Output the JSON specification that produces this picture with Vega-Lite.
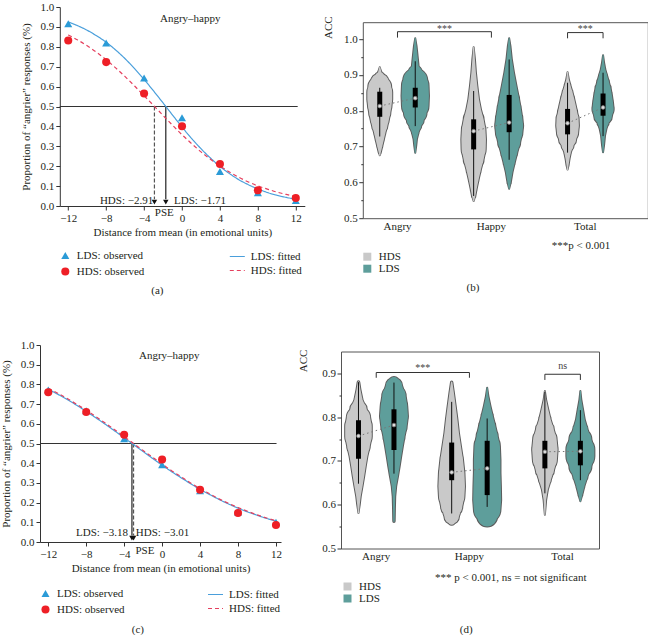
{
  "$schema": "https://vega.github.io/schema/vega-lite/v6.json",
  "background": "white",
  "padding": {"left": 0, "top": 1, "right": 0, "bottom": 0},
  "datasets": {
    "refA": [{"x": -12.89, "x2": 12.2, "p": 0.5}],
    "refC": [{"x": -12.87, "x2": 12.06, "p": 0.5}],
    "pseA": [
      {"g": "HDS", "x": -2.91, "p": 0.5, "p2": 0.034},
      {"g": "LDS", "x": -1.71, "p": 0.5, "p2": 0.034}
    ],
    "pseC": [
      {"g": "LDS", "x": -3.18, "p": 0.5, "p2": 0.034},
      {"g": "HDS", "x": -3.01, "p": 0.5, "p2": 0.034}
    ],
    "arrA": [{"x": -2.91, "p": 0.02}, {"x": -1.71, "p": 0.02}],
    "arrC": [{"x": -3.18, "p": 0.02}, {"x": -3.01, "p": 0.02}],
    "textA": [
      {"t": "Angry–happy", "x": 0.87, "p": 0.941},
      {"t": "HDS: −2.91", "x": -5.85, "p": 0.025},
      {"t": "LDS: −1.71", "x": 1.9, "p": 0.025},
      {"t": "PSE", "x": -1.87, "p": -0.037}
    ],
    "textC": [
      {"t": "Angry–happy", "x": 0.75, "p": 0.944},
      {"t": "LDS: −3.18", "x": -6.33, "p": 0.046},
      {"t": "HDS: −3.01", "x": 0.04, "p": 0.046},
      {"t": "PSE", "x": -1.81, "p": -0.048}
    ],
    "obsA": [
      {"s": "LDS: observed", "x": -12, "p": 0.916},
      {"s": "LDS: observed", "x": -8, "p": 0.819},
      {"s": "LDS: observed", "x": -4, "p": 0.643},
      {"s": "LDS: observed", "x": 0, "p": 0.443},
      {"s": "LDS: observed", "x": 4, "p": 0.173},
      {"s": "LDS: observed", "x": 8, "p": 0.067},
      {"s": "LDS: observed", "x": 12, "p": 0.027},
      {"s": "HDS: observed", "x": -12, "p": 0.832},
      {"s": "HDS: observed", "x": -8, "p": 0.723},
      {"s": "HDS: observed", "x": -4, "p": 0.565},
      {"s": "HDS: observed", "x": 0, "p": 0.401},
      {"s": "HDS: observed", "x": 4, "p": 0.211},
      {"s": "HDS: observed", "x": 8, "p": 0.079},
      {"s": "HDS: observed", "x": 12, "p": 0.04}
    ],
    "obsC": [
      {"s": "LDS: observed", "x": -12, "p": 0.772},
      {"s": "LDS: observed", "x": -8, "p": 0.666},
      {"s": "LDS: observed", "x": -4, "p": 0.524},
      {"s": "LDS: observed", "x": 0, "p": 0.392},
      {"s": "LDS: observed", "x": 4, "p": 0.26},
      {"s": "LDS: observed", "x": 8, "p": 0.152},
      {"s": "LDS: observed", "x": 12, "p": 0.1},
      {"s": "HDS: observed", "x": -12, "p": 0.76},
      {"s": "HDS: observed", "x": -8, "p": 0.66},
      {"s": "HDS: observed", "x": -4, "p": 0.544},
      {"s": "HDS: observed", "x": 0, "p": 0.419},
      {"s": "HDS: observed", "x": 4, "p": 0.265},
      {"s": "HDS: observed", "x": 8, "p": 0.147},
      {"s": "HDS: observed", "x": 12, "p": 0.086}
    ],
    "fitA": [
      {"f": "LDS: fitted", "x": -12, "p": 0.925}, {"f": "LDS: fitted", "x": -11, "p": 0.906},
      {"f": "LDS: fitted", "x": -10, "p": 0.883}, {"f": "LDS: fitted", "x": -9, "p": 0.855},
      {"f": "LDS: fitted", "x": -8, "p": 0.823}, {"f": "LDS: fitted", "x": -7, "p": 0.784},
      {"f": "LDS: fitted", "x": -6, "p": 0.74}, {"f": "LDS: fitted", "x": -5, "p": 0.69},
      {"f": "LDS: fitted", "x": -4, "p": 0.636}, {"f": "LDS: fitted", "x": -3, "p": 0.578},
      {"f": "LDS: fitted", "x": -2, "p": 0.518}, {"f": "LDS: fitted", "x": -1, "p": 0.457},
      {"f": "LDS: fitted", "x": 0, "p": 0.397}, {"f": "LDS: fitted", "x": 1, "p": 0.34},
      {"f": "LDS: fitted", "x": 2, "p": 0.288}, {"f": "LDS: fitted", "x": 3, "p": 0.241},
      {"f": "LDS: fitted", "x": 4, "p": 0.199}, {"f": "LDS: fitted", "x": 5, "p": 0.163},
      {"f": "LDS: fitted", "x": 6, "p": 0.132}, {"f": "LDS: fitted", "x": 7, "p": 0.107},
      {"f": "LDS: fitted", "x": 8, "p": 0.086}, {"f": "LDS: fitted", "x": 9, "p": 0.068},
      {"f": "LDS: fitted", "x": 10, "p": 0.054}, {"f": "LDS: fitted", "x": 11, "p": 0.043},
      {"f": "LDS: fitted", "x": 12, "p": 0.034},
      {"f": "HDS: fitted", "x": -12, "p": 0.86}, {"f": "HDS: fitted", "x": -11, "p": 0.834},
      {"f": "HDS: fitted", "x": -10, "p": 0.805}, {"f": "HDS: fitted", "x": -9, "p": 0.772},
      {"f": "HDS: fitted", "x": -8, "p": 0.735}, {"f": "HDS: fitted", "x": -7, "p": 0.694},
      {"f": "HDS: fitted", "x": -6, "p": 0.65}, {"f": "HDS: fitted", "x": -5, "p": 0.603},
      {"f": "HDS: fitted", "x": -4, "p": 0.554}, {"f": "HDS: fitted", "x": -3, "p": 0.505},
      {"f": "HDS: fitted", "x": -2, "p": 0.455}, {"f": "HDS: fitted", "x": -1, "p": 0.406},
      {"f": "HDS: fitted", "x": 0, "p": 0.358}, {"f": "HDS: fitted", "x": 1, "p": 0.314},
      {"f": "HDS: fitted", "x": 2, "p": 0.272}, {"f": "HDS: fitted", "x": 3, "p": 0.235},
      {"f": "HDS: fitted", "x": 4, "p": 0.201}, {"f": "HDS: fitted", "x": 5, "p": 0.171},
      {"f": "HDS: fitted", "x": 6, "p": 0.144}, {"f": "HDS: fitted", "x": 7, "p": 0.121},
      {"f": "HDS: fitted", "x": 8, "p": 0.101}, {"f": "HDS: fitted", "x": 9, "p": 0.085},
      {"f": "HDS: fitted", "x": 10, "p": 0.07}, {"f": "HDS: fitted", "x": 11, "p": 0.058},
      {"f": "HDS: fitted", "x": 12, "p": 0.048}
    ],
    "fitC": [
      {"f": "LDS: fitted", "x": -12, "p": 0.775}, {"f": "LDS: fitted", "x": -11, "p": 0.75},
      {"f": "LDS: fitted", "x": -10, "p": 0.723}, {"f": "LDS: fitted", "x": -9, "p": 0.694},
      {"f": "LDS: fitted", "x": -8, "p": 0.663}, {"f": "LDS: fitted", "x": -7, "p": 0.631},
      {"f": "LDS: fitted", "x": -6, "p": 0.598}, {"f": "LDS: fitted", "x": -5, "p": 0.564},
      {"f": "LDS: fitted", "x": -4, "p": 0.529}, {"f": "LDS: fitted", "x": -3, "p": 0.494},
      {"f": "LDS: fitted", "x": -2, "p": 0.459}, {"f": "LDS: fitted", "x": -1, "p": 0.424},
      {"f": "LDS: fitted", "x": 0, "p": 0.39}, {"f": "LDS: fitted", "x": 1, "p": 0.357},
      {"f": "LDS: fitted", "x": 2, "p": 0.326}, {"f": "LDS: fitted", "x": 3, "p": 0.296},
      {"f": "LDS: fitted", "x": 4, "p": 0.267}, {"f": "LDS: fitted", "x": 5, "p": 0.241},
      {"f": "LDS: fitted", "x": 6, "p": 0.216}, {"f": "LDS: fitted", "x": 7, "p": 0.193},
      {"f": "LDS: fitted", "x": 8, "p": 0.172}, {"f": "LDS: fitted", "x": 9, "p": 0.153},
      {"f": "LDS: fitted", "x": 10, "p": 0.136}, {"f": "LDS: fitted", "x": 11, "p": 0.12},
      {"f": "LDS: fitted", "x": 12, "p": 0.106},
      {"f": "HDS: fitted", "x": -12, "p": 0.78}, {"f": "HDS: fitted", "x": -11, "p": 0.755},
      {"f": "HDS: fitted", "x": -10, "p": 0.728}, {"f": "HDS: fitted", "x": -9, "p": 0.699},
      {"f": "HDS: fitted", "x": -8, "p": 0.669}, {"f": "HDS: fitted", "x": -7, "p": 0.637},
      {"f": "HDS: fitted", "x": -6, "p": 0.604}, {"f": "HDS: fitted", "x": -5, "p": 0.57},
      {"f": "HDS: fitted", "x": -4, "p": 0.535}, {"f": "HDS: fitted", "x": -3, "p": 0.5},
      {"f": "HDS: fitted", "x": -2, "p": 0.464}, {"f": "HDS: fitted", "x": -1, "p": 0.43},
      {"f": "HDS: fitted", "x": 0, "p": 0.396}, {"f": "HDS: fitted", "x": 1, "p": 0.362},
      {"f": "HDS: fitted", "x": 2, "p": 0.331}, {"f": "HDS: fitted", "x": 3, "p": 0.3},
      {"f": "HDS: fitted", "x": 4, "p": 0.271}, {"f": "HDS: fitted", "x": 5, "p": 0.245},
      {"f": "HDS: fitted", "x": 6, "p": 0.219}, {"f": "HDS: fitted", "x": 7, "p": 0.196},
      {"f": "HDS: fitted", "x": 8, "p": 0.175}, {"f": "HDS: fitted", "x": 9, "p": 0.156},
      {"f": "HDS: fitted", "x": 10, "p": 0.138}, {"f": "HDS: fitted", "x": 11, "p": 0.122},
      {"f": "HDS: fitted", "x": 12, "p": 0.108}
    ],
    "violinB": [
      {"cat": "Angry", "grp": "HDS", "v": 0.921, "d": 0}, {"cat": "Angry", "grp": "HDS", "v": 0.907, "d": 0.12},
      {"cat": "Angry", "grp": "HDS", "v": 0.893, "d": 0.36}, {"cat": "Angry", "grp": "HDS", "v": 0.879, "d": 0.64},
      {"cat": "Angry", "grp": "HDS", "v": 0.865, "d": 0.82}, {"cat": "Angry", "grp": "HDS", "v": 0.851, "d": 0.89},
      {"cat": "Angry", "grp": "HDS", "v": 0.832, "d": 0.89}, {"cat": "Angry", "grp": "HDS", "v": 0.814, "d": 0.84},
      {"cat": "Angry", "grp": "HDS", "v": 0.795, "d": 0.76}, {"cat": "Angry", "grp": "HDS", "v": 0.776, "d": 0.66},
      {"cat": "Angry", "grp": "HDS", "v": 0.758, "d": 0.55}, {"cat": "Angry", "grp": "HDS", "v": 0.739, "d": 0.41},
      {"cat": "Angry", "grp": "HDS", "v": 0.72, "d": 0.3}, {"cat": "Angry", "grp": "HDS", "v": 0.702, "d": 0.19},
      {"cat": "Angry", "grp": "HDS", "v": 0.683, "d": 0.07}, {"cat": "Angry", "grp": "HDS", "v": 0.676, "d": 0},
      {"cat": "Angry", "grp": "LDS", "v": 1.002, "d": 0}, {"cat": "Angry", "grp": "LDS", "v": 0.981, "d": 0.09},
      {"cat": "Angry", "grp": "LDS", "v": 0.963, "d": 0.14}, {"cat": "Angry", "grp": "LDS", "v": 0.944, "d": 0.19},
      {"cat": "Angry", "grp": "LDS", "v": 0.925, "d": 0.24}, {"cat": "Angry", "grp": "LDS", "v": 0.907, "d": 0.48},
      {"cat": "Angry", "grp": "LDS", "v": 0.898, "d": 0.59}, {"cat": "Angry", "grp": "LDS", "v": 0.884, "d": 0.86},
      {"cat": "Angry", "grp": "LDS", "v": 0.87, "d": 0.95}, {"cat": "Angry", "grp": "LDS", "v": 0.842, "d": 0.98},
      {"cat": "Angry", "grp": "LDS", "v": 0.814, "d": 0.95}, {"cat": "Angry", "grp": "LDS", "v": 0.795, "d": 0.81},
      {"cat": "Angry", "grp": "LDS", "v": 0.776, "d": 0.62}, {"cat": "Angry", "grp": "LDS", "v": 0.758, "d": 0.43},
      {"cat": "Angry", "grp": "LDS", "v": 0.739, "d": 0.24}, {"cat": "Angry", "grp": "LDS", "v": 0.72, "d": 0.12},
      {"cat": "Angry", "grp": "LDS", "v": 0.702, "d": 0.07}, {"cat": "Angry", "grp": "LDS", "v": 0.683, "d": 0},
      {"cat": "Happy", "grp": "HDS", "v": 0.977, "d": 0}, {"cat": "Happy", "grp": "HDS", "v": 0.944, "d": 0.09},
      {"cat": "Happy", "grp": "HDS", "v": 0.907, "d": 0.16}, {"cat": "Happy", "grp": "HDS", "v": 0.87, "d": 0.26},
      {"cat": "Happy", "grp": "HDS", "v": 0.832, "d": 0.38}, {"cat": "Happy", "grp": "HDS", "v": 0.804, "d": 0.52},
      {"cat": "Happy", "grp": "HDS", "v": 0.776, "d": 0.71}, {"cat": "Happy", "grp": "HDS", "v": 0.748, "d": 0.84},
      {"cat": "Happy", "grp": "HDS", "v": 0.72, "d": 0.88}, {"cat": "Happy", "grp": "HDS", "v": 0.692, "d": 0.86},
      {"cat": "Happy", "grp": "HDS", "v": 0.664, "d": 0.71}, {"cat": "Happy", "grp": "HDS", "v": 0.636, "d": 0.52},
      {"cat": "Happy", "grp": "HDS", "v": 0.609, "d": 0.36}, {"cat": "Happy", "grp": "HDS", "v": 0.581, "d": 0.21},
      {"cat": "Happy", "grp": "HDS", "v": 0.562, "d": 0.12}, {"cat": "Happy", "grp": "HDS", "v": 0.548, "d": 0},
      {"cat": "Happy", "grp": "LDS", "v": 1.002, "d": 0}, {"cat": "Happy", "grp": "LDS", "v": 0.981, "d": 0.09},
      {"cat": "Happy", "grp": "LDS", "v": 0.944, "d": 0.19}, {"cat": "Happy", "grp": "LDS", "v": 0.907, "d": 0.34},
      {"cat": "Happy", "grp": "LDS", "v": 0.87, "d": 0.52}, {"cat": "Happy", "grp": "LDS", "v": 0.833, "d": 0.71},
      {"cat": "Happy", "grp": "LDS", "v": 0.805, "d": 0.84}, {"cat": "Happy", "grp": "LDS", "v": 0.777, "d": 0.95},
      {"cat": "Happy", "grp": "LDS", "v": 0.758, "d": 1.0}, {"cat": "Happy", "grp": "LDS", "v": 0.74, "d": 0.95},
      {"cat": "Happy", "grp": "LDS", "v": 0.712, "d": 0.79}, {"cat": "Happy", "grp": "LDS", "v": 0.684, "d": 0.59},
      {"cat": "Happy", "grp": "LDS", "v": 0.656, "d": 0.41}, {"cat": "Happy", "grp": "LDS", "v": 0.628, "d": 0.24},
      {"cat": "Happy", "grp": "LDS", "v": 0.6, "d": 0.12}, {"cat": "Happy", "grp": "LDS", "v": 0.582, "d": 0},
      {"cat": "Total", "grp": "HDS", "v": 0.907, "d": 0}, {"cat": "Total", "grp": "HDS", "v": 0.888, "d": 0.09},
      {"cat": "Total", "grp": "HDS", "v": 0.87, "d": 0.21}, {"cat": "Total", "grp": "HDS", "v": 0.851, "d": 0.36},
      {"cat": "Total", "grp": "HDS", "v": 0.833, "d": 0.48}, {"cat": "Total", "grp": "HDS", "v": 0.814, "d": 0.59},
      {"cat": "Total", "grp": "HDS", "v": 0.795, "d": 0.69}, {"cat": "Total", "grp": "HDS", "v": 0.777, "d": 0.79},
      {"cat": "Total", "grp": "HDS", "v": 0.758, "d": 0.81}, {"cat": "Total", "grp": "HDS", "v": 0.74, "d": 0.76},
      {"cat": "Total", "grp": "HDS", "v": 0.721, "d": 0.62}, {"cat": "Total", "grp": "HDS", "v": 0.703, "d": 0.43},
      {"cat": "Total", "grp": "HDS", "v": 0.684, "d": 0.24}, {"cat": "Total", "grp": "HDS", "v": 0.665, "d": 0.14},
      {"cat": "Total", "grp": "HDS", "v": 0.647, "d": 0.07}, {"cat": "Total", "grp": "HDS", "v": 0.636, "d": 0},
      {"cat": "Total", "grp": "LDS", "v": 0.955, "d": 0}, {"cat": "Total", "grp": "LDS", "v": 0.935, "d": 0.07},
      {"cat": "Total", "grp": "LDS", "v": 0.916, "d": 0.16}, {"cat": "Total", "grp": "LDS", "v": 0.898, "d": 0.29},
      {"cat": "Total", "grp": "LDS", "v": 0.879, "d": 0.43}, {"cat": "Total", "grp": "LDS", "v": 0.861, "d": 0.55},
      {"cat": "Total", "grp": "LDS", "v": 0.842, "d": 0.64}, {"cat": "Total", "grp": "LDS", "v": 0.823, "d": 0.71},
      {"cat": "Total", "grp": "LDS", "v": 0.805, "d": 0.76}, {"cat": "Total", "grp": "LDS", "v": 0.786, "d": 0.64},
      {"cat": "Total", "grp": "LDS", "v": 0.768, "d": 0.41}, {"cat": "Total", "grp": "LDS", "v": 0.749, "d": 0.24},
      {"cat": "Total", "grp": "LDS", "v": 0.73, "d": 0.14}, {"cat": "Total", "grp": "LDS", "v": 0.703, "d": 0.07},
      {"cat": "Total", "grp": "LDS", "v": 0.684, "d": 0}
    ],
    "violinD": [
      {"cat": "Angry", "grp": "HDS", "v": 0.88, "d": 0.06}, {"cat": "Angry", "grp": "HDS", "v": 0.863, "d": 0.14},
      {"cat": "Angry", "grp": "HDS", "v": 0.84, "d": 0.29}, {"cat": "Angry", "grp": "HDS", "v": 0.818, "d": 0.59},
      {"cat": "Angry", "grp": "HDS", "v": 0.798, "d": 0.84}, {"cat": "Angry", "grp": "HDS", "v": 0.779, "d": 0.95},
      {"cat": "Angry", "grp": "HDS", "v": 0.756, "d": 0.95}, {"cat": "Angry", "grp": "HDS", "v": 0.734, "d": 0.81},
      {"cat": "Angry", "grp": "HDS", "v": 0.711, "d": 0.64}, {"cat": "Angry", "grp": "HDS", "v": 0.688, "d": 0.52},
      {"cat": "Angry", "grp": "HDS", "v": 0.665, "d": 0.41}, {"cat": "Angry", "grp": "HDS", "v": 0.642, "d": 0.29},
      {"cat": "Angry", "grp": "HDS", "v": 0.619, "d": 0.16}, {"cat": "Angry", "grp": "HDS", "v": 0.6, "d": 0.09},
      {"cat": "Angry", "grp": "HDS", "v": 0.581, "d": 0},
      {"cat": "Angry", "grp": "LDS", "v": 0.88, "d": 0.36}, {"cat": "Angry", "grp": "LDS", "v": 0.871, "d": 0.59},
      {"cat": "Angry", "grp": "LDS", "v": 0.848, "d": 0.84}, {"cat": "Angry", "grp": "LDS", "v": 0.825, "d": 0.95},
      {"cat": "Angry", "grp": "LDS", "v": 0.802, "d": 1.0}, {"cat": "Angry", "grp": "LDS", "v": 0.779, "d": 0.91},
      {"cat": "Angry", "grp": "LDS", "v": 0.756, "d": 0.76}, {"cat": "Angry", "grp": "LDS", "v": 0.734, "d": 0.64},
      {"cat": "Angry", "grp": "LDS", "v": 0.711, "d": 0.52}, {"cat": "Angry", "grp": "LDS", "v": 0.688, "d": 0.41},
      {"cat": "Angry", "grp": "LDS", "v": 0.665, "d": 0.29}, {"cat": "Angry", "grp": "LDS", "v": 0.642, "d": 0.16},
      {"cat": "Angry", "grp": "LDS", "v": 0.619, "d": 0.09}, {"cat": "Angry", "grp": "LDS", "v": 0.596, "d": 0.07},
      {"cat": "Angry", "grp": "LDS", "v": 0.562, "d": 0.05},
      {"cat": "Happy", "grp": "HDS", "v": 0.88, "d": 0.05}, {"cat": "Happy", "grp": "HDS", "v": 0.856, "d": 0.16},
      {"cat": "Happy", "grp": "HDS", "v": 0.825, "d": 0.29}, {"cat": "Happy", "grp": "HDS", "v": 0.795, "d": 0.41},
      {"cat": "Happy", "grp": "HDS", "v": 0.764, "d": 0.52}, {"cat": "Happy", "grp": "HDS", "v": 0.734, "d": 0.66},
      {"cat": "Happy", "grp": "HDS", "v": 0.703, "d": 0.81}, {"cat": "Happy", "grp": "HDS", "v": 0.673, "d": 0.91},
      {"cat": "Happy", "grp": "HDS", "v": 0.642, "d": 0.95}, {"cat": "Happy", "grp": "HDS", "v": 0.619, "d": 0.91},
      {"cat": "Happy", "grp": "HDS", "v": 0.596, "d": 0.76}, {"cat": "Happy", "grp": "HDS", "v": 0.573, "d": 0.52},
      {"cat": "Happy", "grp": "HDS", "v": 0.562, "d": 0.24},
      {"cat": "Happy", "grp": "LDS", "v": 0.867, "d": 0}, {"cat": "Happy", "grp": "LDS", "v": 0.848, "d": 0.09},
      {"cat": "Happy", "grp": "LDS", "v": 0.825, "d": 0.24}, {"cat": "Happy", "grp": "LDS", "v": 0.802, "d": 0.41},
      {"cat": "Happy", "grp": "LDS", "v": 0.779, "d": 0.59}, {"cat": "Happy", "grp": "LDS", "v": 0.756, "d": 0.76},
      {"cat": "Happy", "grp": "LDS", "v": 0.734, "d": 0.91}, {"cat": "Happy", "grp": "LDS", "v": 0.703, "d": 0.95},
      {"cat": "Happy", "grp": "LDS", "v": 0.673, "d": 0.95}, {"cat": "Happy", "grp": "LDS", "v": 0.642, "d": 0.98},
      {"cat": "Happy", "grp": "LDS", "v": 0.611, "d": 1.0}, {"cat": "Happy", "grp": "LDS", "v": 0.589, "d": 0.95},
      {"cat": "Happy", "grp": "LDS", "v": 0.573, "d": 0.71}, {"cat": "Happy", "grp": "LDS", "v": 0.562, "d": 0.24},
      {"cat": "Total", "grp": "HDS", "v": 0.86, "d": 0}, {"cat": "Total", "grp": "HDS", "v": 0.84, "d": 0.09},
      {"cat": "Total", "grp": "HDS", "v": 0.818, "d": 0.24}, {"cat": "Total", "grp": "HDS", "v": 0.795, "d": 0.41},
      {"cat": "Total", "grp": "HDS", "v": 0.772, "d": 0.64}, {"cat": "Total", "grp": "HDS", "v": 0.749, "d": 0.84},
      {"cat": "Total", "grp": "HDS", "v": 0.726, "d": 0.91}, {"cat": "Total", "grp": "HDS", "v": 0.703, "d": 0.86},
      {"cat": "Total", "grp": "HDS", "v": 0.68, "d": 0.66}, {"cat": "Total", "grp": "HDS", "v": 0.657, "d": 0.43},
      {"cat": "Total", "grp": "HDS", "v": 0.634, "d": 0.21}, {"cat": "Total", "grp": "HDS", "v": 0.611, "d": 0.09},
      {"cat": "Total", "grp": "HDS", "v": 0.577, "d": 0},
      {"cat": "Total", "grp": "LDS", "v": 0.86, "d": 0}, {"cat": "Total", "grp": "LDS", "v": 0.84, "d": 0.07},
      {"cat": "Total", "grp": "LDS", "v": 0.818, "d": 0.19}, {"cat": "Total", "grp": "LDS", "v": 0.795, "d": 0.31},
      {"cat": "Total", "grp": "LDS", "v": 0.772, "d": 0.52}, {"cat": "Total", "grp": "LDS", "v": 0.749, "d": 0.79},
      {"cat": "Total", "grp": "LDS", "v": 0.726, "d": 1.0}, {"cat": "Total", "grp": "LDS", "v": 0.711, "d": 1.0},
      {"cat": "Total", "grp": "LDS", "v": 0.688, "d": 0.79}, {"cat": "Total", "grp": "LDS", "v": 0.665, "d": 0.52},
      {"cat": "Total", "grp": "LDS", "v": 0.642, "d": 0.29}, {"cat": "Total", "grp": "LDS", "v": 0.623, "d": 0.14},
      {"cat": "Total", "grp": "LDS", "v": 0.608, "d": 0}
    ],
    "statsB": [
      {"cat": "Angry", "grp": "HDS", "lo": 0.728, "q1": 0.783, "med": 0.813, "q3": 0.853, "hi": 0.864},
      {"cat": "Angry", "grp": "LDS", "lo": 0.757, "q1": 0.809, "med": 0.835, "q3": 0.864, "hi": 0.938},
      {"cat": "Happy", "grp": "HDS", "lo": 0.562, "q1": 0.692, "med": 0.743, "q3": 0.776, "hi": 0.855},
      {"cat": "Happy", "grp": "LDS", "lo": 0.663, "q1": 0.74, "med": 0.767, "q3": 0.844, "hi": 0.943},
      {"cat": "Total", "grp": "HDS", "lo": 0.683, "q1": 0.734, "med": 0.765, "q3": 0.805, "hi": 0.878},
      {"cat": "Total", "grp": "LDS", "lo": 0.729, "q1": 0.786, "med": 0.809, "q3": 0.848, "hi": 0.906}
    ],
    "statsD": [
      {"cat": "Angry", "grp": "HDS", "lo": 0.648, "q1": 0.705, "med": 0.757, "q3": 0.793, "hi": 0.88},
      {"cat": "Angry", "grp": "LDS", "lo": 0.671, "q1": 0.725, "med": 0.782, "q3": 0.818, "hi": 0.879},
      {"cat": "Happy", "grp": "HDS", "lo": 0.58, "q1": 0.656, "med": 0.674, "q3": 0.742, "hi": 0.835},
      {"cat": "Happy", "grp": "LDS", "lo": 0.595, "q1": 0.622, "med": 0.683, "q3": 0.746, "hi": 0.797},
      {"cat": "Total", "grp": "HDS", "lo": 0.626, "q1": 0.683, "med": 0.721, "q3": 0.746, "hi": 0.858},
      {"cat": "Total", "grp": "LDS", "lo": 0.656, "q1": 0.69, "med": 0.722, "q3": 0.746, "hi": 0.816}
    ],
    "bracketB": [
      {"b": "AH", "cat": "Angry", "grp": "mid", "v": 1.004, "k": 1},
      {"b": "AH", "cat": "Angry", "grp": "mid", "v": 1.0205, "k": 2},
      {"b": "AH", "cat": "Happy", "grp": "mid", "v": 1.0205, "k": 3},
      {"b": "AH", "cat": "Happy", "grp": "mid", "v": 1.004, "k": 4},
      {"b": "T", "cat": "Total", "grp": "HDS", "v": 1.002, "k": 1},
      {"b": "T", "cat": "Total", "grp": "HDS", "v": 1.018, "k": 2},
      {"b": "T", "cat": "Total", "grp": "LDS", "v": 1.018, "k": 3},
      {"b": "T", "cat": "Total", "grp": "LDS", "v": 1.002, "k": 4}
    ],
    "bracketD": [
      {"b": "AH", "cat": "Angry", "grp": "mid", "v": 0.89, "k": 1},
      {"b": "AH", "cat": "Angry", "grp": "mid", "v": 0.902, "k": 2},
      {"b": "AH", "cat": "Happy", "grp": "mid", "v": 0.902, "k": 3},
      {"b": "AH", "cat": "Happy", "grp": "mid", "v": 0.89, "k": 4},
      {"b": "T", "cat": "Total", "grp": "HDS", "v": 0.885, "k": 1},
      {"b": "T", "cat": "Total", "grp": "HDS", "v": 0.898, "k": 2},
      {"b": "T", "cat": "Total", "grp": "LDS", "v": 0.898, "k": 3},
      {"b": "T", "cat": "Total", "grp": "LDS", "v": 0.885, "k": 4}
    ],
    "sigB": [
      {"t": "***", "cat": "Angry–Happy", "grp": "mid", "v": 1.028},
      {"t": "***", "cat": "Total", "grp": "mid", "v": 1.028}
    ],
    "sigD": [
      {"t": "***", "cat": "Angry–Happy", "grp": "mid", "v": 0.912},
      {"t": "ns", "cat": "Total", "grp": "mid", "v": 0.916}
    ]
  },
  "vconcat": [
    {
      "spacing": -21.2,
      "hconcat": [
        {"width": 1, "height": 1, "data": {"values": []}, "mark": "point", "encoding": {}},
        {
          "spacing": 16,
          "hconcat": [
            {
              "width": 245,
              "height": 199,
              "title": {"text": "(a)", "orient": "bottom", "anchor": "middle", "frame": "bounds", "offset": 8, "dx": -5},
              "encoding": {
                "x": {"field": "x", "type": "quantitative", "scale": {"domain": [-12.89, 12.95], "nice": false, "zero": false},
                  "axis": {"title": "Distance from mean (in emotional units)", "values": [-12, -8, -4, 0, 4, 8, 12], "titlePadding": 3}},
                "y": {"field": "p", "type": "quantitative", "scale": {"domain": [0, 1], "nice": false, "zero": false},
                  "axis": {"title": "Proportion of “angrier” responses (%)", "values": [0, 0.1, 0.2, 0.3, 0.4, 0.5, 0.6, 0.7, 0.8, 0.9, 1], "format": ".1f", "titlePadding": 9}}
              },
              "layer": [
                {"data": {"name": "refA"}, "mark": {"type": "rule", "color": "#333333", "strokeWidth": 1}, "encoding": {"x2": {"field": "x2"}}},
                {"data": {"name": "pseA"}, "transform": [{"filter": "datum.g == 'LDS'"}], "mark": {"type": "rule", "color": "#222222", "strokeWidth": 1.2}, "encoding": {"y2": {"field": "p2"}}},
                {"data": {"name": "pseA"}, "transform": [{"filter": "datum.g == 'HDS'"}], "mark": {"type": "rule", "color": "#555555", "strokeWidth": 1.2, "strokeDash": [4, 2]}, "encoding": {"y2": {"field": "p2"}}},
                {
                  "data": {"name": "fitA"},
                  "mark": {"type": "line", "strokeWidth": 1.2, "interpolate": "monotone"},
                  "encoding": {
                    "color": {"field": "f", "type": "nominal", "scale": {"domain": ["LDS: fitted", "HDS: fitted"], "range": ["#4a9fdb", "#e5405e"]},
                      "legend": {"orient": "none", "legendX": 169, "legendY": 241, "title": null, "symbolType": "stroke", "symbolSize": 225, "symbolStrokeWidth": 1.2, "rowPadding": 0, "labelOffset": 5,
                        "encode": {"symbols": {"update": {"stroke": {"signal": "datum.value == 'LDS: fitted' ? '#4a9fdb' : '#e5405e'"}}}}}},
                    "strokeDash": {"field": "f", "type": "nominal", "scale": {"domain": ["LDS: fitted", "HDS: fitted"], "range": [[1, 0], [4, 3]]},
                      "legend": {"orient": "none", "legendX": 169, "legendY": 241, "title": null, "symbolType": "stroke", "symbolSize": 225, "symbolStrokeWidth": 1.2, "rowPadding": 0, "labelOffset": 5,
                        "encode": {"symbols": {"update": {"stroke": {"signal": "datum.value == 'LDS: fitted' ? '#4a9fdb' : '#e5405e'"}}}}}}
                  }
                },
                {
                  "data": {"name": "obsA"},
                  "mark": {"type": "point", "filled": true, "size": 65, "opacity": 1},
                  "encoding": {
                    "fill": {"field": "s", "type": "nominal", "scale": {"domain": ["LDS: observed", "HDS: observed"], "range": ["#2b9bd7", "#ee1f26"]},
                      "legend": {"orient": "none", "legendX": 0, "legendY": 243, "title": null, "symbolSize": 65, "symbolStrokeWidth": 0, "rowPadding": 4, "labelOffset": 6}},
                    "shape": {"field": "s", "type": "nominal", "scale": {"domain": ["LDS: observed", "HDS: observed"], "range": ["triangle-up", "circle"]},
                      "legend": {"orient": "none", "legendX": 0, "legendY": 243, "title": null, "symbolSize": 65, "symbolStrokeWidth": 0, "rowPadding": 4, "labelOffset": 6}}
                  }
                },
                {"data": {"name": "arrA"}, "mark": {"type": "point", "shape": "triangle-down", "filled": true, "color": "#111111", "size": 30, "opacity": 1}, "encoding": {}},
                {"data": {"name": "textA"}, "mark": {"type": "text", "fontSize": 11}, "encoding": {"text": {"field": "t"}}}
              ]
            },
            {
              "spacing": 7.2,
              "vconcat": [
                {"width": 1, "height": 1, "data": {"values": []}, "mark": "point", "encoding": {}},
                {
                  "width": 285,
                  "height": 196,
                  "view": {"stroke": "#555555", "strokeWidth": 1},
                  "title": {"text": "(b)", "orient": "bottom", "anchor": "middle", "frame": "bounds", "offset": 8, "dx": -12},
                  "encoding": {
                    "x": {"field": "cat", "type": "nominal",
                      "scale": {"domain": ["Angry", "Angry–Happy", "Happy", "Happy–Total", "Total"], "paddingInner": 0.244, "paddingOuter": 0.657, "align": 0.2747},
                      "axis": {"values": ["Angry", "Happy", "Total"], "labelAngle": 0, "ticks": false, "tickSize": 0, "domain": false, "labelPadding": 2,
                        "title": "***p < 0.001", "titleX": 247, "titleAlign": "right", "titlePadding": 8}},
                    "xOffset": {"field": "grp", "type": "nominal", "scale": {"type": "point", "padding": 0, "domain": ["HDS", "mid", "LDS"]}},
                    "y": {"field": "v", "type": "quantitative", "scale": {"domain": [0.5, 1.047], "nice": false, "zero": false},
                      "axis": {"title": "ACC", "titleAlign": "center", "titleY": 5, "titlePadding": 10.5, "domain": false, "labelPadding": 1.5,
                        "values": [0.5, 0.55, 0.6, 0.65, 0.7, 0.75, 0.8, 0.85, 0.9, 0.95, 1.0],
                        "labelExpr": "round(datum.value * 20) % 2 == 1 ? '' : format(datum.value, '.1f')",
                        "tickSize": {"condition": {"test": "round(datum.value * 20) % 2 == 1", "value": 2}, "value": 4}}}
                  },
                  "layer": [
                    {"data": {"name": "violinB"}, "mark": {"type": "trail", "color": "#5c5c5c"},
                      "encoding": {"size": {"field": "d", "type": "quantitative", "scale": {"domain": [0, 1], "range": [2, 30]}, "legend": null},
                        "detail": [{"field": "cat"}, {"field": "grp"}], "order": {"field": "v", "type": "quantitative"}}},
                    {"data": {"name": "violinB"}, "mark": {"type": "trail"},
                      "encoding": {
                        "fill": {"field": "grp", "type": "nominal", "scale": {"domain": ["HDS", "LDS"], "range": ["#c9c9c9", "#5e9e9b"]},
                          "legend": {"orient": "none", "legendX": -1, "legendY": 229, "title": null, "symbolType": "square", "symbolSize": 64, "symbolStrokeWidth": 0, "rowPadding": 0, "labelOffset": 6}},
                        "size": {"field": "d", "type": "quantitative", "scale": {"domain": [0, 1], "range": [0, 28]}, "legend": null},
                        "detail": [{"field": "cat"}, {"field": "grp"}], "order": {"field": "v", "type": "quantitative"}}},
                    {"data": {"name": "statsB"}, "mark": {"type": "rule", "color": "#111111", "strokeWidth": 1},
                      "encoding": {"y": {"field": "lo", "type": "quantitative", "title": "ACC"}, "y2": {"field": "hi"}}},
                    {"data": {"name": "statsB"}, "mark": {"type": "rule", "color": "#000000", "strokeWidth": 5, "strokeCap": "butt"},
                      "encoding": {"y": {"field": "q1", "type": "quantitative", "title": "ACC"}, "y2": {"field": "q3"}}},
                    {"data": {"name": "statsB"}, "mark": {"type": "line", "color": "#777777", "strokeWidth": 1, "strokeDash": [1.5, 3]},
                      "encoding": {"y": {"field": "med", "type": "quantitative", "title": "ACC"}, "detail": {"field": "cat"}, "order": {"field": "grp"}}},
                    {"data": {"name": "statsB"}, "mark": {"type": "point", "filled": true, "fill": "#dddddd", "stroke": "#777777", "strokeWidth": 0.8, "size": 14, "opacity": 1},
                      "encoding": {"y": {"field": "med", "type": "quantitative", "title": "ACC"}}},
                    {"data": {"name": "bracketB"}, "mark": {"type": "line", "color": "#333333", "strokeWidth": 1},
                      "encoding": {"detail": {"field": "b"}, "order": {"field": "k", "type": "quantitative"}}},
                    {"data": {"name": "sigB"}, "mark": {"type": "text", "fontSize": 10, "color": "#444444"},
                      "encoding": {"text": {"field": "t"}}}
                  ],
                  "resolve": {"scale": {"size": "independent"}}
                }
              ],
              "resolve": {"scale": {"color": "independent", "fill": "independent", "shape": "independent", "stroke": "independent", "strokeDash": "independent", "size": "independent"},
                "legend": {"color": "independent", "fill": "independent", "shape": "independent", "stroke": "independent", "strokeDash": "independent", "size": "independent"}}
            }
          ],
          "resolve": {"scale": {"color": "independent", "fill": "independent", "shape": "independent", "stroke": "independent", "strokeDash": "independent", "size": "independent"},
            "legend": {"color": "independent", "fill": "independent", "shape": "independent", "stroke": "independent", "strokeDash": "independent", "size": "independent"}}
        }
      ],
      "resolve": {"scale": {"color": "independent", "fill": "independent", "shape": "independent", "stroke": "independent", "strokeDash": "independent", "size": "independent"},
        "legend": {"color": "independent", "fill": "independent", "shape": "independent", "stroke": "independent", "strokeDash": "independent", "size": "independent"}}
    },
    {
      "spacing": 14,
      "hconcat": [
        {
          "width": 241,
          "height": 197,
          "title": {"text": "(c)", "orient": "bottom", "anchor": "middle", "frame": "bounds", "offset": 9, "dx": -3},
          "encoding": {
            "x": {"field": "x", "type": "quantitative", "scale": {"domain": [-12.87, 12.53], "nice": false, "zero": false},
              "axis": {"title": "Distance from mean (in emotional units)", "values": [-12, -8, -4, 0, 4, 8, 12], "titlePadding": 3}},
            "y": {"field": "p", "type": "quantitative", "scale": {"domain": [0, 1], "nice": false, "zero": false},
              "axis": {"title": "Proportion of “angrier” responses (%)", "values": [0, 0.1, 0.2, 0.3, 0.4, 0.5, 0.6, 0.7, 0.8, 0.9, 1], "format": ".1f", "titlePadding": 9}}
          },
          "layer": [
            {"data": {"name": "refC"}, "mark": {"type": "rule", "color": "#333333", "strokeWidth": 1}, "encoding": {"x2": {"field": "x2"}}},
            {"data": {"name": "pseC"}, "transform": [{"filter": "datum.g == 'LDS'"}], "mark": {"type": "rule", "color": "#222222", "strokeWidth": 1.2}, "encoding": {"y2": {"field": "p2"}}},
            {"data": {"name": "pseC"}, "transform": [{"filter": "datum.g == 'HDS'"}], "mark": {"type": "rule", "color": "#555555", "strokeWidth": 1.2, "strokeDash": [4, 2]}, "encoding": {"y2": {"field": "p2"}}},
            {
              "data": {"name": "fitC"},
              "mark": {"type": "line", "strokeWidth": 1.2, "interpolate": "monotone"},
              "encoding": {
                "color": {"field": "f", "type": "nominal", "scale": {"domain": ["LDS: fitted", "HDS: fitted"], "range": ["#4a9fdb", "#e5405e"]},
                  "legend": {"orient": "none", "legendX": 167, "legendY": 241, "title": null, "symbolType": "stroke", "symbolSize": 225, "symbolStrokeWidth": 1.2, "rowPadding": 0, "labelOffset": 5,
                    "encode": {"symbols": {"update": {"stroke": {"signal": "datum.value == 'LDS: fitted' ? '#4a9fdb' : '#e5405e'"}}}}}},
                "strokeDash": {"field": "f", "type": "nominal", "scale": {"domain": ["LDS: fitted", "HDS: fitted"], "range": [[1, 0], [4, 3]]},
                  "legend": {"orient": "none", "legendX": 167, "legendY": 241, "title": null, "symbolType": "stroke", "symbolSize": 225, "symbolStrokeWidth": 1.2, "rowPadding": 0, "labelOffset": 5,
                    "encode": {"symbols": {"update": {"stroke": {"signal": "datum.value == 'LDS: fitted' ? '#4a9fdb' : '#e5405e'"}}}}}}
              }
            },
            {
              "data": {"name": "obsC"},
              "mark": {"type": "point", "filled": true, "size": 65, "opacity": 1},
              "encoding": {
                "fill": {"field": "s", "type": "nominal", "scale": {"domain": ["LDS: observed", "HDS: observed"], "range": ["#2b9bd7", "#ee1f26"]},
                  "legend": {"orient": "none", "legendX": 0, "legendY": 243, "title": null, "symbolSize": 65, "symbolStrokeWidth": 0, "rowPadding": 4, "labelOffset": 6}},
                "shape": {"field": "s", "type": "nominal", "scale": {"domain": ["LDS: observed", "HDS: observed"], "range": ["triangle-up", "circle"]},
                  "legend": {"orient": "none", "legendX": 0, "legendY": 243, "title": null, "symbolSize": 65, "symbolStrokeWidth": 0, "rowPadding": 4, "labelOffset": 6}}
              }
            },
            {"data": {"name": "arrC"}, "mark": {"type": "point", "shape": "triangle-down", "filled": true, "color": "#111111", "size": 30, "opacity": 1}, "encoding": {}},
            {"data": {"name": "textC"}, "mark": {"type": "text", "fontSize": 11}, "encoding": {"text": {"field": "t"}}}
          ]
        },
        {
          "spacing": 2.5,
          "vconcat": [
            {"width": 1, "height": 1, "data": {"values": []}, "mark": "point", "encoding": {}},
            {
              "width": 258,
              "height": 197,
              "view": {"stroke": "#555555", "strokeWidth": 1},
              "title": {"text": "(d)", "orient": "bottom", "anchor": "middle", "frame": "bounds", "offset": 20, "dx": 18},
              "encoding": {
                "x": {"field": "cat", "type": "nominal",
                  "scale": {"domain": ["Angry", "Angry–Happy", "Happy", "Happy–Total", "Total"], "paddingInner": 0.2416, "paddingOuter": 0.3889, "align": 0.482},
                  "axis": {"values": ["Angry", "Happy", "Total"], "labelAngle": 0, "ticks": false, "tickSize": 0, "domain": false, "labelPadding": 2,
                    "title": "*** p < 0.001, ns = not significant", "titleX": 245, "titleAlign": "right", "titlePadding": 9.5}},
                "xOffset": {"field": "grp", "type": "nominal", "scale": {"type": "point", "padding": 0, "domain": ["HDS", "mid", "LDS"]}},
                "y": {"field": "v", "type": "quantitative", "scale": {"domain": [0.5, 0.95], "nice": false, "zero": false},
                  "axis": {"title": "ACC", "titleAlign": "center", "titleY": 9, "titlePadding": 13.5, "domain": false, "labelPadding": 1.5,
                    "values": [0.5, 0.55, 0.6, 0.65, 0.7, 0.75, 0.8, 0.85, 0.9],
                    "labelExpr": "round(datum.value * 20) % 2 == 1 ? '' : format(datum.value, '.1f')",
                    "tickSize": {"condition": {"test": "round(datum.value * 20) % 2 == 1", "value": 2}, "value": 4}}}
              },
              "layer": [
                {"data": {"name": "violinD"}, "mark": {"type": "trail", "color": "#5c5c5c"},
                  "encoding": {"size": {"field": "d", "type": "quantitative", "scale": {"domain": [0, 1], "range": [2, 30]}, "legend": null},
                    "detail": [{"field": "cat"}, {"field": "grp"}], "order": {"field": "v", "type": "quantitative"}}},
                {"data": {"name": "violinD"}, "mark": {"type": "trail"},
                  "encoding": {
                    "fill": {"field": "grp", "type": "nominal", "scale": {"domain": ["HDS", "LDS"], "range": ["#c9c9c9", "#5e9e9b"]},
                      "legend": {"orient": "none", "legendX": 1, "legendY": 229.5, "title": null, "symbolType": "square", "symbolSize": 64, "symbolStrokeWidth": 0, "rowPadding": 0, "labelOffset": 6}},
                    "size": {"field": "d", "type": "quantitative", "scale": {"domain": [0, 1], "range": [0, 28]}, "legend": null},
                    "detail": [{"field": "cat"}, {"field": "grp"}], "order": {"field": "v", "type": "quantitative"}}},
                {"data": {"name": "statsD"}, "mark": {"type": "rule", "color": "#111111", "strokeWidth": 1},
                  "encoding": {"y": {"field": "lo", "type": "quantitative", "title": "ACC"}, "y2": {"field": "hi"}}},
                {"data": {"name": "statsD"}, "mark": {"type": "rule", "color": "#000000", "strokeWidth": 5, "strokeCap": "butt"},
                  "encoding": {"y": {"field": "q1", "type": "quantitative", "title": "ACC"}, "y2": {"field": "q3"}}},
                {"data": {"name": "statsD"}, "mark": {"type": "line", "color": "#777777", "strokeWidth": 1, "strokeDash": [1.5, 3]},
                  "encoding": {"y": {"field": "med", "type": "quantitative", "title": "ACC"}, "detail": {"field": "cat"}, "order": {"field": "grp"}}},
                {"data": {"name": "statsD"}, "mark": {"type": "point", "filled": true, "fill": "#dddddd", "stroke": "#777777", "strokeWidth": 0.8, "size": 14, "opacity": 1},
                  "encoding": {"y": {"field": "med", "type": "quantitative", "title": "ACC"}}},
                {"data": {"name": "bracketD"}, "mark": {"type": "line", "color": "#333333", "strokeWidth": 1},
                  "encoding": {"detail": {"field": "b"}, "order": {"field": "k", "type": "quantitative"}}},
                {"data": {"name": "sigD"}, "mark": {"type": "text", "fontSize": 10, "color": "#444444"},
                  "encoding": {"text": {"field": "t"}}}
              ],
              "resolve": {"scale": {"size": "independent"}}
            }
          ],
          "resolve": {"scale": {"color": "independent", "fill": "independent", "shape": "independent", "stroke": "independent", "strokeDash": "independent", "size": "independent"},
            "legend": {"color": "independent", "fill": "independent", "shape": "independent", "stroke": "independent", "strokeDash": "independent", "size": "independent"}}
        }
      ],
      "resolve": {"scale": {"color": "independent", "fill": "independent", "shape": "independent", "stroke": "independent", "strokeDash": "independent", "size": "independent"},
        "legend": {"color": "independent", "fill": "independent", "shape": "independent", "stroke": "independent", "strokeDash": "independent", "size": "independent"}}
    }
  ],
  "spacing": 43,
  "resolve": {"scale": {"color": "independent", "fill": "independent", "shape": "independent", "stroke": "independent", "strokeDash": "independent", "size": "independent"},
    "legend": {"color": "independent", "fill": "independent", "shape": "independent", "stroke": "independent", "strokeDash": "independent", "size": "independent"}},
  "config": {
    "font": "Liberation Serif",
    "view": {"stroke": null},
    "axis": {"labelFont": "Liberation Serif", "titleFont": "Liberation Serif", "labelFontSize": 11, "titleFontSize": 11,
      "titleFontWeight": "normal", "labelColor": "#231f20", "titleColor": "#231f20", "domainColor": "#333333", "tickColor": "#333333",
      "grid": false, "tickSize": 4, "labelPadding": 2, "labelFlush": false, "labelOverlap": false},
    "legend": {"labelFont": "Liberation Serif", "labelFontSize": 11, "labelFontWeight": "normal", "labelColor": "#231f20", "padding": 0, "offset": 0},
    "title": {"font": "Liberation Serif", "fontSize": 11, "fontWeight": "normal", "color": "#231f20"},
    "text": {"font": "Liberation Serif", "fontSize": 11, "color": "#231f20"}
  }
}
